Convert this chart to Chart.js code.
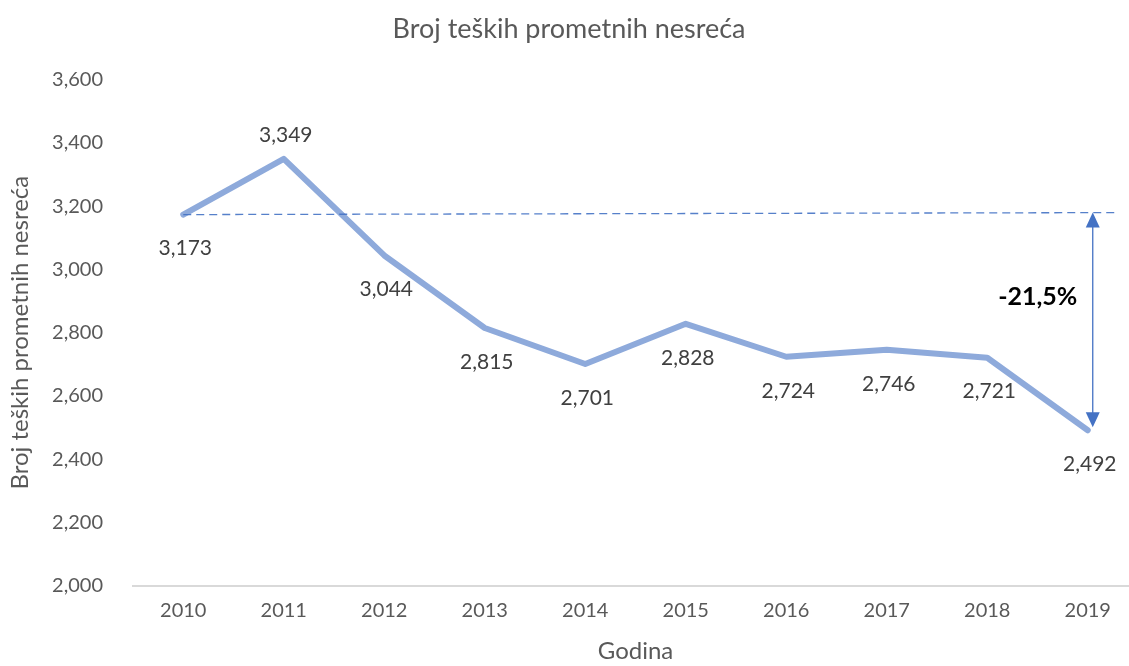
<!DOCTYPE html>
<html>
<head>
<meta charset="utf-8">
<script src="https://cdn.jsdelivr.net/npm/chart.js@4.4.1/dist/chart.umd.min.js"></script>
<style>
  html, body { margin: 0; padding: 0; background: #fff; overflow: hidden; width: 1129px; height: 666px; }
  #wrap { width: 1146px; height: 666px; }
</style>
</head>
<body>
<div id="wrap"><canvas id="c" width="1146" height="666"></canvas></div>
<script>
const years = ['2010', '2011', '2012', '2013', '2014', '2015', '2016', '2017', '2018', '2019'];
const accidents = [3173, 3349, 3044, 2815, 2701, 2828, 2724, 2746, 2721, 2492];
const yTicks = [2000, 2200, 2400, 2600, 2800, 3000, 3200, 3400, 3600];
const changeLabel = '-21,5%';

const FONT = 'Lato, "Open Sans", sans-serif';
const GREY = '#595959';

const annotatePlugin = {
  id: 'annotate',
  afterDatasetsDraw(chart) {
    const ctx = chart.ctx;
    const meta = chart.getDatasetMeta(0);
    const y = chart.scales.y;
    const first = accidents[0];
    const last = accidents[accidents.length - 1];
    const pFirst = meta.data[0];
    const pLast = meta.data[meta.data.length - 1];
    const yTop = y.getPixelForValue(first);
    const yBot = y.getPixelForValue(last);
    ctx.save();
    // dashed reference line
    ctx.strokeStyle = '#4472c4';
    ctx.globalAlpha = 0.9;
    ctx.lineWidth = 1.3;
    ctx.setLineDash([8, 5]);
    ctx.beginPath();
    ctx.moveTo(pFirst.x, yTop);
    ctx.lineTo(pLast.x + 28, yTop - 2);
    ctx.stroke();
    ctx.setLineDash([]);
    ctx.globalAlpha = 1;
    // arrow
    const ax = pLast.x + 5;
    const top = yTop - 2;
    const bot = yBot - 3;
    ctx.lineWidth = 1.3;
    ctx.beginPath();
    ctx.moveTo(ax, top + 12);
    ctx.lineTo(ax, bot - 12);
    ctx.stroke();
    ctx.fillStyle = '#4472c4';
    ctx.beginPath();
    ctx.moveTo(ax, top);
    ctx.lineTo(ax - 7, top + 15);
    ctx.lineTo(ax + 7, top + 15);
    ctx.closePath();
    ctx.fill();
    ctx.beginPath();
    ctx.moveTo(ax, bot);
    ctx.lineTo(ax - 7, bot - 15);
    ctx.lineTo(ax + 7, bot - 15);
    ctx.closePath();
    ctx.fill();
    // percentage label
    ctx.fillStyle = '#000';
    ctx.font = 'bold 25px ' + FONT;
    ctx.textAlign = 'center';
    ctx.textBaseline = 'middle';
    ctx.fillText(changeLabel, ax - 55, (top + bot) / 2 - 23);
    // data labels
    ctx.font = '21px ' + FONT;
    ctx.fillStyle = '#404040';
    meta.data.forEach((pt, i) => {
      const above = i === 1;
      const ty = above ? pt.y - 24 : pt.y + 34;
      ctx.fillText(accidents[i].toLocaleString('en-US'), pt.x + 2, ty);
    });
    ctx.restore();
  }
};

new Chart(document.getElementById('c'), {
  type: 'line',
  data: {
    labels: years,
    datasets: [{
      data: accidents,
      borderColor: '#8eaadb',
      borderWidth: 6,
      borderJoinStyle: 'round',
      borderCapStyle: 'round',
      pointRadius: 0,
      tension: 0,
      fill: false
    }]
  },
  options: {
    responsive: false,
    animation: false,
    layout: { padding: { left: 0, right: 8, top: 0, bottom: 0 } },
    plugins: {
      legend: { display: false },
      tooltip: { enabled: false },
      title: {
        display: true,
        text: 'Broj teških prometnih nesreća',
        color: GREY,
        font: { family: FONT, size: 27, weight: 'normal' },
        padding: { top: 13, bottom: 34 }
      }
    },
    scales: {
      x: {
        offset: true,
        grid: { display: false, drawTicks: false },
        border: { display: true, color: '#d9d9d9', width: 2 },
        ticks: { color: GREY, font: { family: FONT, size: 20 }, padding: 13, maxRotation: 0 },
        title: { display: true, text: 'Godina', color: GREY, font: { family: FONT, size: 24 }, padding: { top: 0, bottom: 0 } },
        afterFit(scale) { scale.height = 80; }
      },
      y: {
        min: yTicks[0],
        max: yTicks[yTicks.length - 1],
        afterBuildTicks(scale) { scale.ticks = yTicks.map(v => ({ value: v })); },
        grid: { display: false, drawTicks: false },
        border: { display: false },
        ticks: {
          color: GREY,
          font: { family: FONT, size: 20 },
          padding: 30,
          callback: v => v.toLocaleString('en-US')
        },
        title: { display: true, text: 'Broj teških prometnih nesreća', color: GREY, font: { family: FONT, size: 24 }, padding: { top: 6, bottom: 0 } },
        afterFit(scale) { scale.width = 133; }
      }
    }
  },
  plugins: [annotatePlugin]
});
</script>
</body>
</html>
